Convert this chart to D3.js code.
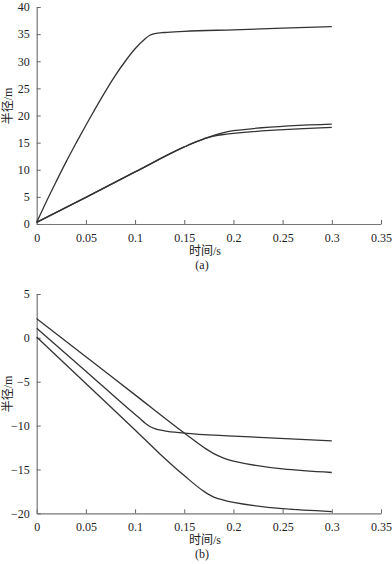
<!DOCTYPE html>
<html lang="en">
  <head>
    <meta charset="utf-8">
    <title>半径-时间</title>
    <script src="https://cdnjs.cloudflare.com/ajax/libs/d3/7.8.5/d3.min.js"></script>
    <style type="text/css">
      body { margin: 0; background: #fff; }
      .tick text { font-family: "Liberation Serif", "Noto Sans CJK SC", serif; font-size: 12px; fill: #222; }
      .lbl { font-family: "Liberation Serif", "Noto Sans CJK SC", serif; font-size: 12px; fill: #222; }
    </style>
  </head>
  <body>
    <script type="text/javascript">
    var w = 392;
    var h = 564;

    // (a) 
    var tA1 = [0, 0.01, 0.02, 0.03, 0.04, 0.05, 0.06, 0.07, 0.08, 0.09, 0.1, 0.11, 0.115, 0.12, 0.13, 0.15, 0.2, 0.3];
    var rA1 = [0.3, 4.2, 7.9, 11.5, 14.9, 18.2, 21.4, 24.5, 27.4, 30.0, 32.3, 34.1, 34.8, 35.1, 35.3, 35.5, 35.8, 36.4];
    var tA2 = [0, 0.05, 0.1, 0.15, 0.16, 0.17, 0.18, 0.19, 0.2, 0.3];
    var rA2 = [0.3, 4.9, 9.6, 14.2, 15.0, 15.7, 16.35, 16.85, 17.2, 18.4];
    var rA3 = [0.3, 4.9, 9.6, 14.2, 15.0, 15.7, 16.2, 16.5, 16.7, 17.8];

    // (b)
    var tB1 = [0, 0.05, 0.1, 0.15, 0.17, 0.18, 0.19, 0.2, 0.3];
    var rB1 = [2.2, -2.15, -6.5, -10.85, -12.5, -13.2, -13.7, -14.05, -15.35];
    var tB2 = [0, 0.05, 0.095, 0.105, 0.11, 0.115, 0.12, 0.13, 0.15, 0.2, 0.3];
    var rB2 = [1.1, -3.8, -8.25, -9.2, -9.7, -10.1, -10.35, -10.6, -10.85, -11.2, -11.75];
    var tB3 = [0, 0.05, 0.1, 0.125, 0.15, 0.17, 0.18, 0.19, 0.2, 0.3];
    var rB3 = [0.1, -5.2, -10.5, -13.2, -15.7, -17.5, -18.15, -18.5, -18.75, -19.8];

    var xTicks = [0, 0.05, 0.1, 0.15, 0.2, 0.25, 0.3, 0.35];
    var yTicksA = [0, 5, 10, 15, 20, 25, 30, 35, 40];
    var yTicksB = [-20, -15, -10, -5, 0, 5];

    var svg = d3.select("body")
                .append("svg")
                .attr("width", w)
                .attr("height", h);

    function zip(t, r) {
      return t.map(function(d, i) { return [d, r[i]]; });
    }

    function panel(yTop, yBot, yDom, yTicks, series, title, capt) {
      var x = d3.scaleLinear().domain([0, 0.35]).range([36.7, 381]);
      var y = d3.scaleLinear().domain(yDom).range([yBot, yTop]);
      var g = svg.append("g");

      var xa = g.append("g")
        .attr("transform", "translate(0," + yBot + ")")
        .call(d3.axisBottom(x).tickValues(xTicks)
              .tickFormat(function(d) { return d === 0 ? "0" : String(d); })
              .tickSizeInner(-4).tickSizeOuter(0).tickPadding(9));
      var ya = g.append("g")
        .attr("transform", "translate(36.7,0)")
        .call(d3.axisLeft(y).tickValues(yTicks)
              .tickFormat(function(d) { return d < 0 ? "\u2212" + (-d) : d; })
              .tickSizeInner(-4).tickSizeOuter(0).tickPadding(7));
      [xa, ya].forEach(function(a) {
        a.select(".domain").attr("stroke", "#777").attr("stroke-width", 1.2);
        a.selectAll(".tick line").attr("stroke", "#666");
      });

      var line = d3.line()
        .x(function(d) { return x(d[0]); })
        .y(function(d) { return y(d[1]); })
        .curve(d3.curveMonotoneX);

      g.selectAll("path.curve")
        .data(series)
        .enter()
        .append("path")
        .attr("class", "curve")
        .attr("d", line)
        .attr("fill", "none")
        .attr("stroke", "#333")
        .attr("stroke-width", 1.3);

      g.append("text").attr("class", "lbl")
        .attr("x", 205).attr("y", yBot + 31)
        .attr("text-anchor", "middle")
        .text("时间/s");
      g.append("text").attr("class", "lbl")
        .attr("x", 202).attr("y", yBot + 45)
        .attr("text-anchor", "middle")
        .text(capt);
      g.append("text").attr("class", "lbl")
        .attr("transform", "translate(12," + title + ") rotate(-90)")
        .attr("text-anchor", "middle")
        .text("半径/m");
    }

    panel(7, 224, [0, 40], yTicksA, [zip(tA1, rA1), zip(tA2, rA2), zip(tA2, rA3)], 106, "(a)");
    panel(294, 513.3, [-20, 5], yTicksB, [zip(tB1, rB1), zip(tB2, rB2), zip(tB3, rB3)], 394, "(b)");
    </script>
  </body>
</html>
